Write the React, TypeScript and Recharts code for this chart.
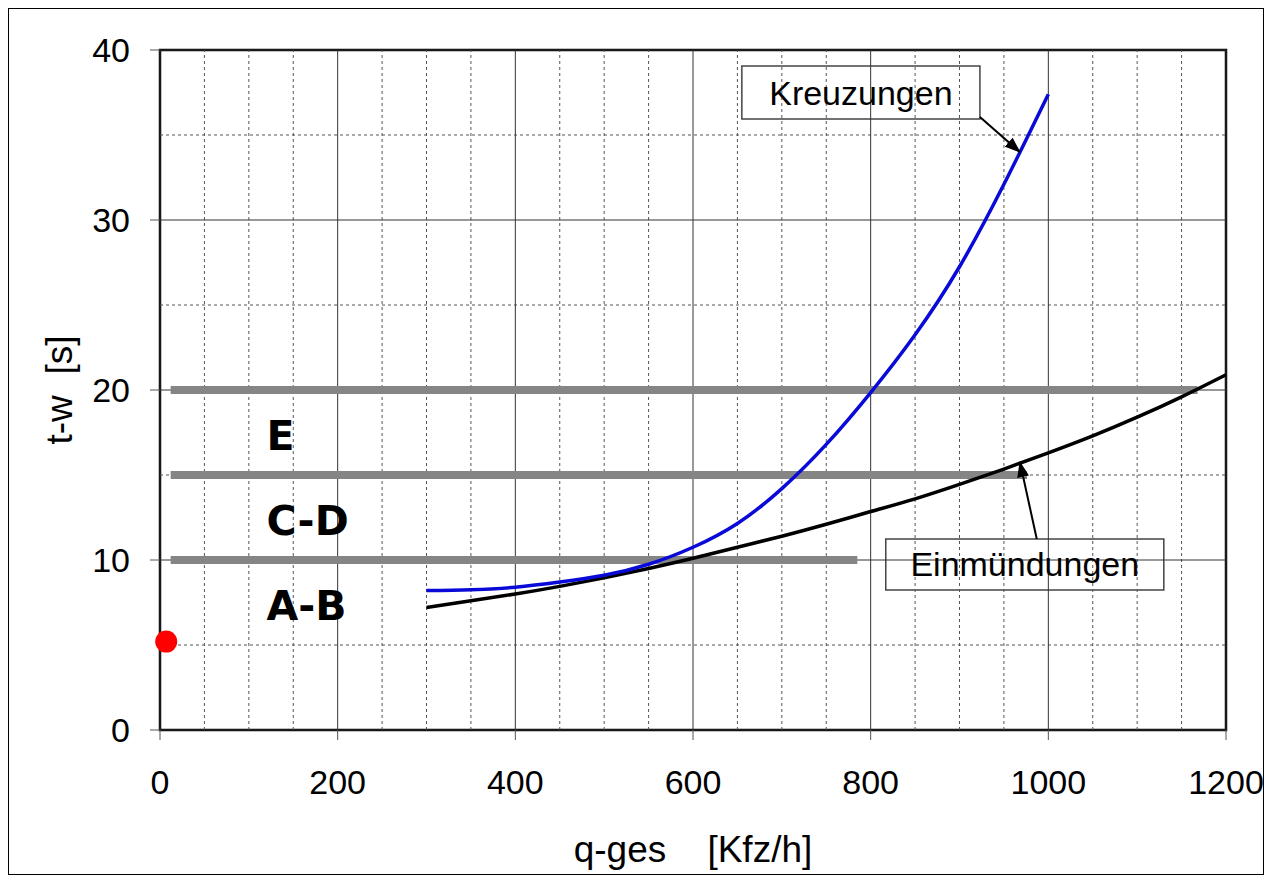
import { LineChart, Line, XAxis, YAxis, ReferenceLine, ReferenceArea, ReferenceDot } from 'recharts'

// ── Data ────────────────────────────────────────────────────────────────
const qTicks = [0, 200, 400, 600, 800, 1000, 1200]
const tTicks = [0, 10, 20, 30, 40]
const qMinor = [50, 100, 150, 250, 300, 350, 450, 500, 550, 650, 700, 750, 850, 900, 950, 1050, 1100, 1150]
const tMinor = [5, 15, 25, 35]

// Kreuzungen (blue)
const kreuzQ = [300, 350, 400, 450, 500, 550, 600, 650, 700, 750, 800, 850, 900, 950, 1000]
const kreuzT = [8.2, 8.25, 8.4, 8.7, 9.1, 9.75, 10.75, 12.15, 14.2, 16.8, 19.85, 23.25, 27.25, 32.1, 37.4]

// Einmündungen (black)
const einQ = [300, 350, 400, 450, 500, 550, 600, 650, 700, 750, 800, 850, 900, 950, 1000, 1050, 1100, 1150, 1200]
const einT = [7.2, 7.6, 8.0, 8.45, 8.95, 9.5, 10.1, 10.75, 11.4, 12.1, 12.85, 13.6, 14.45, 15.35, 16.3, 17.3, 18.4, 19.6, 20.9]

// LOS limits (grey bars)
const losLevel = [10, 15, 20]
const losStart = [12, 12, 12]
const losEnd = [785, 976, 1168]

// zone labels
const zoneNames = ['E', 'C-D', 'A-B']
const zoneY = [16.5, 11.5, 6.5]
const zoneX = 120

// measured point
const pointQ = 7
const pointT = 5.2

// callouts
const kreuzBox = { x1: 655, x2: 923, y1: 35.94, y2: 39.06 }
const kreuzArrow = [{ q: 923, t: 36.06 }, { q: 968, t: 34.0 }]
const einBox = { x1: 817, x2: 1130, y1: 8.24, y2: 11.24 }
const einArrow = [{ q: 987, t: 11.24 }, { q: 968, t: 15.76 }]

const kreuzData = kreuzQ.map((q, i) => ({ q, t: kreuzT[i] }))
const einData = einQ.map((q, i) => ({ q, t: einT[i] }))

const font = '"Liberation Sans", Arial, sans-serif'

function XTitle({ viewBox }: any) {
  return (
    <text x={viewBox.x + viewBox.width / 2} y={viewBox.y + 132} textAnchor="middle" fontSize={37} fontFamily={font} fill="#000">
      {'q-ges\u00a0\u00a0\u00a0\u00a0[Kfz/h]'}
    </text>
  )
}

function YTitle({ viewBox }: any) {
  const x = viewBox.x + 52
  const cy = viewBox.y + viewBox.height / 2
  return (
    <text x={x} y={cy} transform={`rotate(-90, ${x}, ${cy})`} textAnchor="middle" fontSize={37} fontFamily={font} fill="#000">
      {'t-w\u00a0\u00a0[s]'}
    </text>
  )
}

function ZoneLabel(text: string) {
  return (props: any) => (
    <text x={props.cx} y={props.cy} fontSize={41} fontWeight="bold" fontFamily='"DejaVu Sans", Verdana, sans-serif' fill="#000">
      {text}
    </text>
  )
}

export default function App() {
  return (
    <div style={{ width: 1254, height: 865, border: '1px solid #000', background: '#fff' }}>
      <LineChart width={1254} height={865} margin={{ top: 41, right: 37, left: 11, bottom: 14 }}>
        <defs>
          <marker id="arrowHead" markerUnits="userSpaceOnUse" markerWidth={16} markerHeight={12} refX={15} refY={6} orient="auto">
            <path d="M0,0 L16,6 L0,12 z" fill="#000" />
          </marker>
        </defs>
        <XAxis
          type="number"
          dataKey="q"
          domain={[0, 1200]}
          ticks={qTicks}
          height={130}
          tickSize={10}
          tickMargin={30}
          axisLine={false}
          tickLine={{ stroke: '#555' }}
          tick={{ fill: '#000', fontSize: 34, fontFamily: font }}
          label={<XTitle />}
        />
        <YAxis
          type="number"
          dataKey="t"
          domain={[0, 40]}
          ticks={tTicks}
          width={140}
          tickSize={10}
          tickMargin={20}
          axisLine={false}
          tickLine={{ stroke: '#555' }}
          tick={{ fill: '#000', fontSize: 34, fontFamily: font }}
          label={<YTitle />}
        />

        {qMinor.map((q) => (
          <ReferenceLine key={'vq' + q} x={q} stroke="#555" strokeDasharray="3 3" strokeWidth={1} />
        ))}
        {tMinor.map((t) => (
          <ReferenceLine key={'ht' + t} y={t} stroke="#555" strokeDasharray="3 3" strokeWidth={1} />
        ))}
        {qTicks.map((q) => (
          <ReferenceLine key={'vm' + q} x={q} stroke="#333" strokeWidth={1} />
        ))}
        {tTicks.map((t) => (
          <ReferenceLine key={'hm' + t} y={t} stroke="#333" strokeWidth={1} />
        ))}

        {losLevel.map((t, i) => (
          <ReferenceLine
            key={'los' + t}
            segment={[{ x: losStart[i], y: t }, { x: losEnd[i], y: t }]}
            stroke="#858585"
            strokeWidth={8}
          />
        ))}

        <Line data={einData} dataKey="t" type="natural" stroke="#000" strokeWidth={3.5} dot={false} activeDot={false} isAnimationActive={false} />
        <Line data={kreuzData} dataKey="t" type="natural" stroke="#0a0ad8" strokeWidth={3.5} dot={false} activeDot={false} isAnimationActive={false} />

        <Line data={kreuzArrow} dataKey="t" type="linear" stroke="#000" strokeWidth={2} dot={false} activeDot={false} markerEnd="url(#arrowHead)" isAnimationActive={false} />
        <Line data={einArrow} dataKey="t" type="linear" stroke="#000" strokeWidth={2} dot={false} activeDot={false} markerEnd="url(#arrowHead)" isAnimationActive={false} />

        <ReferenceArea
          {...kreuzBox}
          fill="#fff"
          fillOpacity={1}
          stroke="#444"
          strokeWidth={1.5}
          label={{ value: 'Kreuzungen', position: 'center', fontSize: 34, fontFamily: font, fill: '#000' }}
        />
        <ReferenceArea
          {...einBox}
          fill="#fff"
          fillOpacity={1}
          stroke="#444"
          strokeWidth={1.5}
          label={{ value: 'Einmündungen', position: 'center', fontSize: 34, fontFamily: font, fill: '#000' }}
        />

        {zoneNames.map((name, i) => (
          <ReferenceDot key={name} x={zoneX} y={zoneY[i]} r={0} shape={ZoneLabel(name)} />
        ))}

        <ReferenceDot x={pointQ} y={pointT} r={11} fill="#ff0000" stroke="none" />

        <ReferenceArea x1={0} x2={1200} y1={0} y2={40} fill="none" stroke="#000" strokeWidth={2.5} />
      </LineChart>
    </div>
  )
}
